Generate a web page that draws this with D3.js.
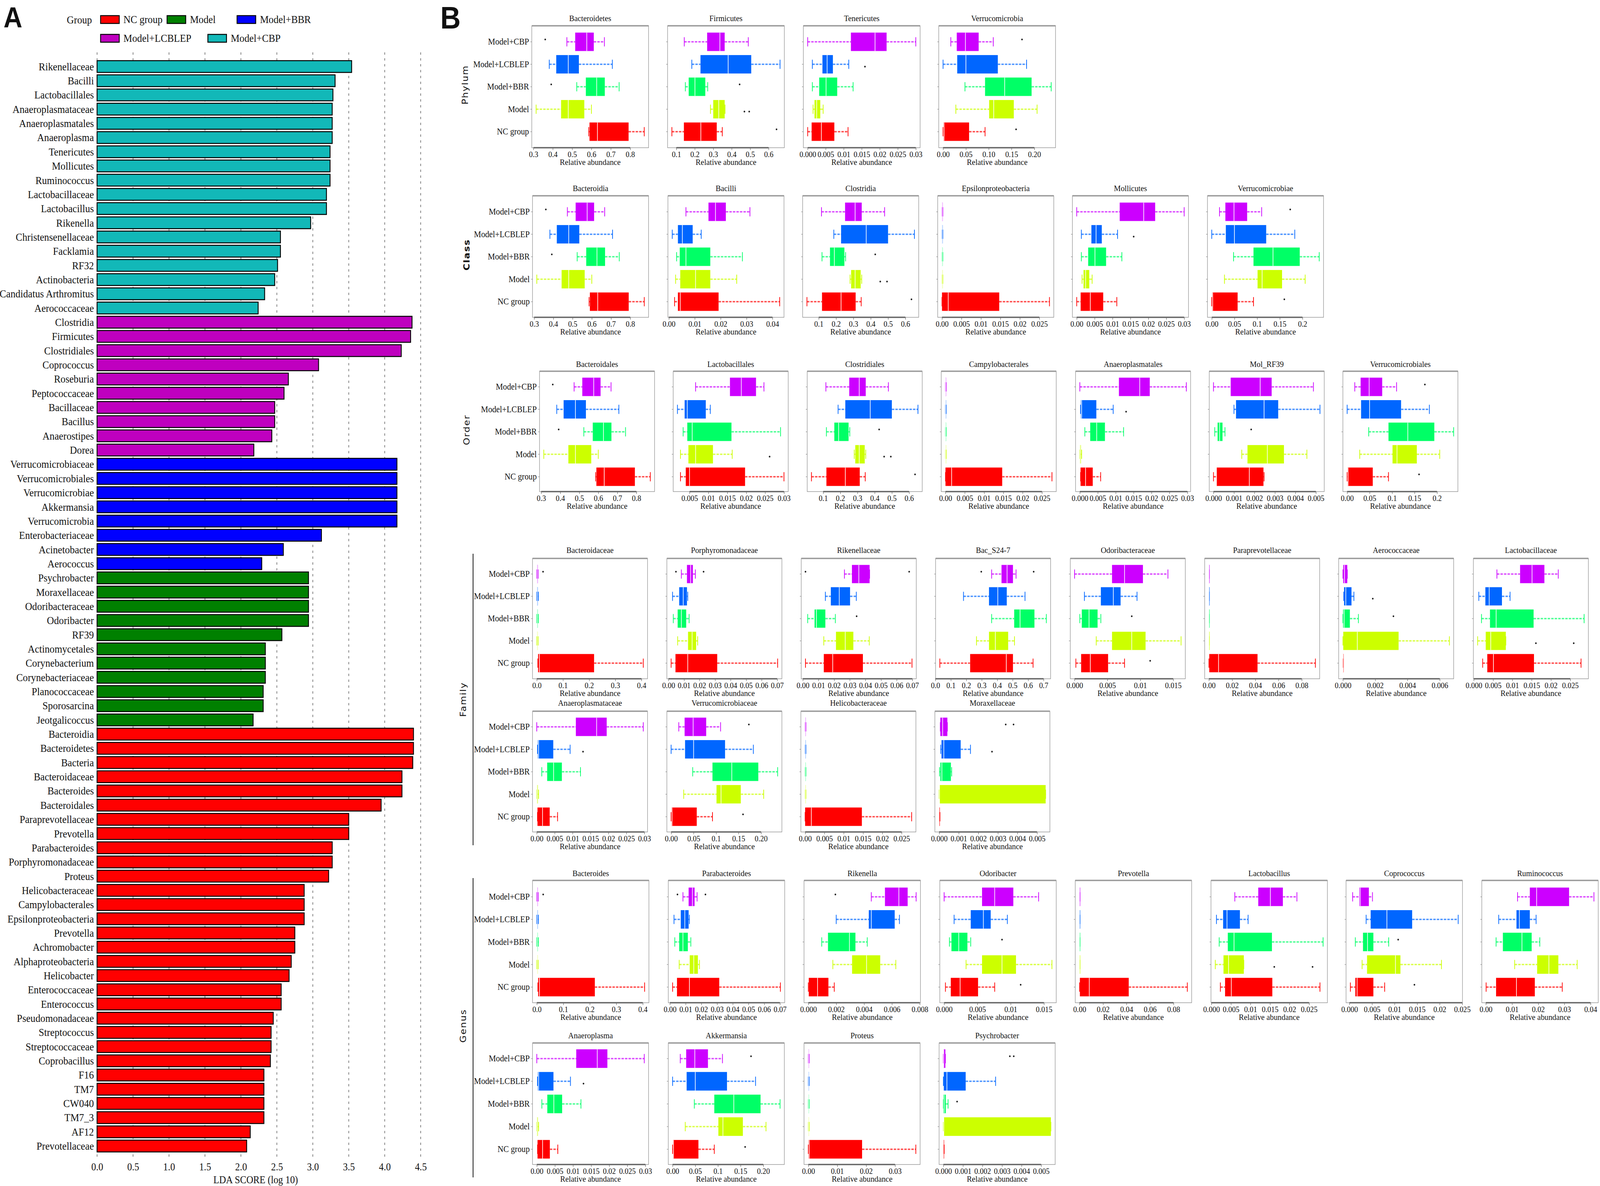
<!DOCTYPE html>
<html>
<head>
<meta charset="utf-8">
<script src="https://cdn.jsdelivr.net/npm/d3@7"></script>
<style>
  html, body { margin: 0; padding: 0; background: #fff; overflow: hidden; }
  svg { display: block; width: 100vw; height: 100vh; }
  text { font-family: "Liberation Serif", "Times New Roman", serif; fill: #111; }
</style>
</head>
<body>
<div id="chart"></div>
<script>
// ---------- Panel A data (LEfSe LDA scores) ----------
var groupNames = ["NC group", "Model", "Model+BBR", "Model+LCBLEP", "Model+CBP"];

var ldaTaxa = [
  "Rikenellaceae", "Bacilli", "Lactobacillales", "Anaeroplasmataceae", "Anaeroplasmatales", "Anaeroplasma",
  "Tenericutes", "Mollicutes", "Ruminococcus", "Lactobacillaceae", "Lactobacillus", "Rikenella",
  "Christensenellaceae", "Facklamia", "RF32", "Actinobacteria", "Candidatus Arthromitus", "Aerococcaceae",
  "Clostridia", "Firmicutes", "Clostridiales", "Coprococcus", "Roseburia", "Peptococcaceae",
  "Bacillaceae", "Bacillus", "Anaerostipes", "Dorea",
  "Verrucomicrobiaceae", "Verrucomicrobiales", "Verrucomicrobiae", "Akkermansia", "Verrucomicrobia",
  "Enterobacteriaceae", "Acinetobacter", "Aerococcus",
  "Psychrobacter", "Moraxellaceae", "Odoribacteraceae", "Odoribacter", "RF39", "Actinomycetales",
  "Corynebacterium", "Corynebacteriaceae", "Planococcaceae", "Sporosarcina", "Jeotgalicoccus",
  "Bacteroidia", "Bacteroidetes", "Bacteria", "Bacteroidaceae", "Bacteroides", "Bacteroidales",
  "Paraprevotellaceae", "Prevotella", "Parabacteroides", "Porphyromonadaceae", "Proteus",
  "Helicobacteraceae", "Campylobacterales", "Epsilonproteobacteria", "Prevotella", "Achromobacter",
  "Alphaproteobacteria", "Helicobacter", "Enterococcaceae", "Enterococcus", "Pseudomonadaceae",
  "Streptococcus", "Streptococcaceae", "Coprobacillus", "F16", "TM7", "CW040", "TM7_3", "AF12",
  "Prevotellaceae"
];

var ldaScores = [
  3.54, 3.31, 3.28, 3.27, 3.27, 3.27,
  3.24, 3.24, 3.24, 3.19, 3.19, 2.97,
  2.55, 2.55, 2.51, 2.47, 2.33, 2.24,
  4.38, 4.36, 4.23, 3.08, 2.66, 2.60,
  2.47, 2.47, 2.43, 2.18,
  4.17, 4.17, 4.17, 4.17, 4.17,
  3.12, 2.59, 2.29,
  2.94, 2.94, 2.94, 2.94, 2.57, 2.34,
  2.34, 2.34, 2.31, 2.31, 2.17,
  4.40, 4.40, 4.39, 4.24, 4.24, 3.95,
  3.50, 3.50, 3.27, 3.27, 3.22,
  2.88, 2.88, 2.88, 2.75, 2.75,
  2.70, 2.67, 2.56, 2.56, 2.45,
  2.42, 2.42, 2.41, 2.32, 2.32, 2.32, 2.32, 2.13,
  2.08
];

// group of each bar, same order as ldaTaxa
var ldaGroupCounts = [["Model+CBP", 18], ["Model+LCBLEP", 10], ["Model+BBR", 8], ["Model", 11], ["NC group", 30]];
var ldaTicks = [0, 0.5, 1, 1.5, 2, 2.5, 3, 3.5, 4, 4.5];

// ---------- Panel B data: [lower whisker, Q1, median, Q3, upper whisker] ----------
// group order: Model+CBP, Model+LCBLEP, Model+BBR, Model, NC group
var boxGroups = ["Model+CBP", "Model+LCBLEP", "Model+BBR", "Model", "NC group"];

var bacteroidetesStats = [[0.473,0.516,0.576,0.612,0.667],[0.382,0.418,0.480,0.535,0.708],[0.524,0.571,0.627,0.669,0.743],[0.314,0.443,0.480,0.563,0.600],[0.586,0.590,0.631,0.792,0.873]];
var bacteroidetesOut = [[0,0.361],[2,0.392]];
var firmicutesStats = [[0.143,0.267,0.336,0.362,0.490],[0.184,0.231,0.381,0.506,0.662],[0.149,0.167,0.201,0.257,0.270],[0.285,0.300,0.330,0.362,0.364],[0.076,0.141,0.233,0.319,0.349]];
var firmicutesOut = [[2,0.443],[3,0.469],[3,0.495],[4,0.643]];
var tenericutesStats = [[0.0000,0.0120,0.0187,0.0219,0.0300],[0.0013,0.0041,0.0054,0.0070,0.0114],[0.0013,0.0032,0.0051,0.0082,0.0126],[0.0015,0.0019,0.0025,0.0035,0.0043],[0.0000,0.0011,0.0038,0.0074,0.0112]];
var tenericutesOut = [[1,0.0159]];
var verrucoStats = [[0.017,0.030,0.049,0.078,0.110],[0.000,0.031,0.050,0.120,0.183],[0.048,0.092,0.135,0.194,0.237],[0.028,0.101,0.111,0.155,0.206],[0.000,0.001,0.002,0.057,0.092]];
var verrucoOut = [[0,0.173],[4,0.160]];
var bacilliStats = [[0.0066,0.0153,0.0180,0.0220,0.0313],[0.0013,0.0035,0.0052,0.0092,0.0125],[0.0030,0.0042,0.0066,0.0160,0.0284],[0.0026,0.0044,0.0103,0.0160,0.0262],[0.0022,0.0035,0.0044,0.0192,0.0428]];
var clostridiaStats = [[0.116,0.252,0.310,0.348,0.480],[0.187,0.229,0.374,0.500,0.652],[0.119,0.165,0.190,0.248,0.255],[0.281,0.287,0.310,0.342,0.348],[0.032,0.119,0.229,0.313,0.345]];
var clostridiaOut = [[2,0.426],[3,0.455],[3,0.494],[4,0.635]];
var epsilonStats = [[0,0,0.00005,0.0001,0.0002],[0,0,0.00005,0.0001,0.0002],[0,0,0.00005,0.0001,0.0002],[0,0,0.00005,0.0001,0.0002],[0,0,0.0016,0.0147,0.0276]];
var lactobacillalesStats = [[0.0066,0.0157,0.0187,0.0226,0.0247],[0.0018,0.0037,0.0044,0.0093,0.0105],[0.0033,0.0044,0.0057,0.0161,0.0291],[0.0026,0.0047,0.0066,0.0112,0.0163],[0.0026,0.0040,0.0050,0.0197,0.0300]];
var lactobacillalesOut = [[3,0.0262]];
var anaeroplasmaStats = [[0.0000,0.0109,0.0167,0.0195,0.0297],[0.0002,0.0003,0.0005,0.0046,0.0093],[0.0014,0.0029,0.0047,0.0070,0.0122],[0.0000,0.0000,0.0001,0.0003,0.0005],[0.0002,0.0002,0.0016,0.0036,0.0058]];
var anaeroplasmaOut = [[1,0.0129]];
var molRF39Stats = [[0.00000,0.00084,0.00228,0.00284,0.00488],[0.00100,0.00110,0.00247,0.00316,0.00520],[0.00006,0.00020,0.00030,0.00044,0.00056],[0.00138,0.00166,0.00263,0.00344,0.00456],[0.00000,0.00016,0.00175,0.00244,0.00247]];
var molRF39Out = [[2,0.00184]];
var bacteroidaceaeStats = [[0,0.001,0.002,0.004,0.005],[0,0.001,0.002,0.004,0.006],[0,0.001,0.002,0.004,0.006],[0,0.001,0.002,0.003,0.005],[0.004,0.005,0.010,0.219,0.407]];
var bacteroidaceaeOut = [[0,0.024]];
var porphyroStats = [[0.0083,0.0119,0.0143,0.0157,0.0173],[0.0026,0.0069,0.0095,0.0119,0.0124],[0.0031,0.0059,0.0083,0.0114,0.0133],[0.0059,0.0126,0.0152,0.0178,0.0188],[0.0017,0.0045,0.0124,0.0314,0.0703]];
var porphyroOut = [[0,0.0048],[0,0.0226]];
var rikenellaceaeStats = [[0.0266,0.0314,0.0358,0.0427,0.0427],[0.0144,0.0179,0.0233,0.0302,0.0342],[0.0031,0.0075,0.0087,0.0144,0.0208],[0.0134,0.0212,0.0271,0.0323,0.0425],[0.0017,0.0134,0.0191,0.0384,0.0698]];
var rikenellaceaeOut = [[0,0.0017],[0,0.0680],[2,0.0344]];
var bacS247Stats = [[0.364,0.428,0.464,0.502,0.522],[0.182,0.347,0.404,0.462,0.580],[0.364,0.510,0.548,0.641,0.718],[0.266,0.347,0.388,0.471,0.512],[0.029,0.225,0.459,0.502,0.632]];
var bacS247Out = [[0,0.297],[0,0.636]];
var odoriStats = [[0.0000,0.0057,0.0076,0.0104,0.0142],[0.0015,0.0040,0.0059,0.0070,0.0095],[0.0008,0.0011,0.0022,0.0035,0.0040],[0.0033,0.0057,0.0087,0.0108,0.0162],[0.0002,0.0010,0.0024,0.0051,0.0076]];
var odoriOut = [[2,0.0087],[4,0.0115]];
var paraprevStats = [[0,0,0,0.0002,0.0004],[0,0,0,0.0002,0.0004],[0,0,0,0.0002,0.0004],[0,0,0,0.0002,0.0004],[0,0.0003,0.0083,0.0419,0.0918]];
var aerococcStats = [[0,0.00002,0.0001,0.00027,0.00027],[0.00005,0.00007,0.00018,0.00053,0.00068],[0,0.00001,0.00007,0.00043,0.00096],[0,0.00002,0.00089,0.00345,0.0066],[0,0,0.00001,0.00002,0.00003]];
var aerococcOut = [[1,0.00185],[2,0.00313]];
var lactobacillaceaeStats = [[0.0060,0.0120,0.0151,0.0183,0.0219],[0.0013,0.0030,0.0040,0.0073,0.0094],[0.0020,0.0042,0.0058,0.0155,0.0286],[0.0010,0.0031,0.0044,0.0083,0.0083],[0.0023,0.0035,0.0051,0.0156,0.0278]];
var lactobacillaceaeOut = [[3,0.0161],[3,0.0259]];
var moraxStats = [[0.00006,0.00006,0.00018,0.00042,0.00042],[0.00008,0.00012,0.00024,0.00110,0.00160],[0.00002,0.00006,0.00014,0.00060,0.00064],[0,0.00002,0.00002,0.00544,0.00544],[0,0,0,0.00002,0.00004]];
var moraxOut = [[0,0.0038],[0,0.0034],[1,0.0027]];
var psychroStats = [[0,0,0.00002,0.0001,0.0001],[0,0.00002,0.00018,0.00114,0.00267],[0,0,0.00004,0.00012,0.00024],[0,0.00002,0.00002,0.0055,0.0055],[0,0,0,0.00002,0.00004]];
var psychroOut = [[0,0.0034],[0,0.0036],[2,0.0007]];
var rikenellaStats = [[0.00452,0.0055,0.0065,0.00713,0.00774],[0.0020,0.00434,0.00452,0.0062,0.00654],[0.00096,0.00141,0.00295,0.00338,0.00423],[0.00176,0.00314,0.00418,0.00516,0.00628],[0,0.00003,0.00066,0.00144,0.00186]];
var rikenellaOut = [[0,0.00194]];
var coprococcusStats = [[0.0007,0.0022,0.0024,0.0043,0.0051],[0.0037,0.0047,0.0083,0.0139,0.0241],[0.0013,0.0030,0.0040,0.0053,0.0087],[0.0028,0.0039,0.0102,0.0113,0.0204],[0.0002,0.0013,0.0017,0.0053,0.0078]];
var coprococcusOut = [[2,0.0108],[4,0.0144]];
var ruminococcusStats = [[0.0121,0.0168,0.0194,0.0318,0.0413],[0.0049,0.0117,0.0128,0.0168,0.0192],[0.0039,0.0065,0.0138,0.0175,0.0206],[0.0110,0.0196,0.0241,0.0277,0.0349],[0.0001,0.0039,0.0117,0.0187,0.0292]];
var proteusStats = [[0,0,0.0001,0.0002,0.0003],[0,0,0.0001,0.0002,0.0003],[0,0,0.0001,0.0002,0.0003],[0,0,0.0001,0.0002,0.0003],[0,0.0001,0.0003,0.0186,0.0372]];

// tick labels
var ticksBacteroid = ["0.3","0.4","0.5","0.6","0.7","0.8"];
var ticksFirm = ["0.1","0.2","0.3","0.4","0.5","0.6"];
var ticksTener = ["0.000","0.005","0.01","0.015","0.02","0.025","0.03"];
var ticksMolli = ["0.00","0.005","0.01","0.015","0.02","0.025","0.03"];
var ticksVerrucoP = ["0.00","0.05","0.10","0.15","0.20"];
var ticksVerrucoC = ["0.00","0.05","0.1","0.15","0.2"];
var ticksVerrucoF = ["0.00","0.05","0.1","0.15","0.20"];
var ticksBacilli = ["0.00","0.01","0.02","0.03","0.04"];
var ticksEpsilon = ["0.00","0.005","0.01","0.015","0.02","0.025"];
var ticksLactobacillales = ["0.005","0.01","0.015","0.02","0.025","0.03"];
var ticksMol = ["0.000","0.001","0.002","0.003","0.004","0.005"];
var ticksBacteroidaceae = ["0.0","0.1","0.2","0.3","0.4"];
var ticksSeven = ["0.00","0.01","0.02","0.03","0.04","0.05","0.06","0.07"];
var ticksS247 = ["0.0","0.1","0.2","0.3","0.4","0.5","0.6","0.7"];
var ticksOdori = ["0.000","0.005","0.01","0.015"];
var ticksParaprev = ["0.00","0.02","0.04","0.06","0.08"];
var ticksAero = ["0.000","0.002","0.004","0.006"];
var ticksLacto = ["0.000","0.005","0.01","0.015","0.02","0.025"];
var ticksRikenella = ["0.000","0.002","0.004","0.006","0.008"];
var ticksRumino = ["0.00","0.01","0.02","0.03","0.04"];
var ticksProteus = ["0.00","0.01","0.02","0.03"];

// ---------- SVG ----------
var svg = d3.select("#chart").append("svg")
  .attr("viewBox", "0 0 4549 3035")
  .attr("preserveAspectRatio", "none");
svg.append("rect").attr("width", 4549).attr("height", 3035).attr("fill", "#fff");

// ================= Panel A =================
var gA = svg.append("g");

gA.append("text").attr("x", 10).attr("y", 70)
  .style("font-family", "'Liberation Sans', Arial, sans-serif")
  .style("font-weight", "bold").style("font-size", "74px").text("A");

var ldaColor = d3.scaleOrdinal()
  .domain(groupNames)
  .range(["#FF0000", "#008000", "#0000FF", "#BF00BF", "#12B8B8"]);

var ldaGroups = [];
ldaGroupCounts.forEach(function (gc) { for (var k = 0; k < gc[1]; k++) ldaGroups.push(gc[0]); });

var ldaX = d3.scaleLinear().domain([0, 4.5]).range([276, 1196]);
var ldaY = d3.scaleBand()
  .domain(d3.range(ldaTaxa.length))
  .range([153, 2950])
  .paddingInner(0.17)
  .paddingOuter(0.06);

// legend
gA.append("text").attr("x", 190).attr("y", 51).attr("dominant-baseline", "central")
  .style("font-size", "28px").text("Group");
var legendPos = [[286, 40], [475, 40], [674, 40], [286, 88], [591, 88]];
groupNames.forEach(function (g, i) {
  gA.append("rect").attr("x", legendPos[i][0]).attr("y", legendPos[i][1])
    .attr("width", 53).attr("height", 20)
    .attr("fill", ldaColor(g)).attr("stroke", "#000").attr("stroke-width", 2.5);
  gA.append("text").attr("x", legendPos[i][0] + 65).attr("y", legendPos[i][1] + 10)
    .attr("dominant-baseline", "central").style("font-size", "28px").text(g);
});

// dashed grid
gA.selectAll(".grid").data(ldaTicks).enter().append("line")
  .attr("x1", d => ldaX(d)).attr("x2", d => ldaX(d))
  .attr("y1", 134).attr("y2", 2968)
  .attr("stroke", "#444").attr("stroke-width", 1.4)
  .attr("stroke-dasharray", "6,9");

// bars
gA.selectAll(".bar").data(ldaScores).enter().append("rect")
  .attr("x", ldaX(0))
  .attr("y", (d, i) => ldaY(i))
  .attr("width", d => ldaX(d) - ldaX(0))
  .attr("height", ldaY.bandwidth())
  .attr("fill", (d, i) => ldaColor(ldaGroups[i]))
  .attr("stroke", "#000").attr("stroke-width", 2.5);

// taxa labels
gA.selectAll(".lab").data(ldaTaxa).enter().append("text")
  .attr("x", 267)
  .attr("y", (d, i) => ldaY(i) + ldaY.bandwidth() / 2)
  .attr("text-anchor", "end").attr("dominant-baseline", "central")
  .style("font-size", "28px").text(d => d);

// x axis
var axA = gA.append("g").attr("transform", "translate(0,2960)")
  .call(d3.axisBottom(ldaX).tickValues(ldaTicks).tickFormat(d3.format(".1f")).tickSize(0).tickPadding(16));
axA.select(".domain").remove();
axA.selectAll("text").style("font-size", "27px").style("font-family", "'Liberation Serif', serif").attr("fill", "#111");
gA.append("text").attr("x", 727).attr("y", 3019).attr("text-anchor", "middle")
  .attr("dominant-baseline", "central").style("font-size", "27px").text("LDA SCORE (log 10)");

// ================= Panel B =================
var gB = svg.append("g");
gB.append("text").attr("x", 1252).attr("y", 73)
  .style("font-family", "'Liberation Sans', Arial, sans-serif")
  .style("font-weight", "bold").style("font-size", "80px").text("B");

var boxColor = d3.scaleOrdinal().domain(boxGroups)
  .range(["#CC00FF", "#0066FF", "#00FF66", "#CCFF00", "#FF0000"]);

var rows = [
  { name: "Phylum", top: 66, bottom: 378, y1: 107, y2: 337, title: 47, w: 332, xs: [1512, 1898, 2284, 2669],
    panels: [
      { title: "Bacteroidetes", stats: bacteroidetesStats, out: bacteroidetesOut, ticks: ticksBacteroid },
      { title: "Firmicutes", stats: firmicutesStats, out: firmicutesOut, ticks: ticksFirm },
      { title: "Tenericutes", stats: tenericutesStats, out: tenericutesOut, ticks: ticksTener },
      { title: "Verrucomicrobia", stats: verrucoStats, out: verrucoOut, ticks: ticksVerrucoP }] },
  { name: "Class", top: 501, bottom: 812, y1: 542, y2: 772, title: 482, w: 330, xs: [1514, 1899, 2282, 2666, 3049, 3433],
    panels: [
      { title: "Bacteroidia", stats: bacteroidetesStats, out: bacteroidetesOut, ticks: ticksBacteroid },
      { title: "Bacilli", stats: bacilliStats, out: [], ticks: ticksBacilli },
      { title: "Clostridia", stats: clostridiaStats, out: clostridiaOut, ticks: ticksFirm },
      { title: "Epsilonproteobacteria", stats: epsilonStats, out: [], ticks: ticksEpsilon },
      { title: "Mollicutes", stats: tenericutesStats, out: tenericutesOut, ticks: ticksMolli },
      { title: "Verrucomicrobiae", stats: verrucoStats, out: verrucoOut, ticks: ticksVerrucoC }] },
  { name: "Order", top: 950, bottom: 1258, y1: 990, y2: 1220, title: 932, w: 327, xs: [1534, 1914, 2295, 2676, 3058, 3438, 3818],
    panels: [
      { title: "Bacteroidales", stats: bacteroidetesStats, out: bacteroidetesOut, ticks: ticksBacteroid },
      { title: "Lactobacillales", stats: lactobacillalesStats, out: lactobacillalesOut, ticks: ticksLactobacillales },
      { title: "Clostridiales", stats: clostridiaStats, out: clostridiaOut, ticks: ticksFirm },
      { title: "Campylobacterales", stats: epsilonStats, out: [], ticks: ticksEpsilon },
      { title: "Anaeroplasmatales", stats: anaeroplasmaStats, out: anaeroplasmaOut, ticks: ticksTener },
      { title: "Mol_RF39", stats: molRF39Stats, out: molRF39Out, ticks: ticksMol },
      { title: "Verrucomicrobiales", stats: verrucoStats, out: verrucoOut, ticks: ticksVerrucoC }] },
  { name: "", top: 1429, bottom: 1737, y1: 1469, y2: 1697, title: 1408, w: 327, xs: [1514, 1896, 2278, 2660, 3043, 3425, 3806, 4189],
    panels: [
      { title: "Bacteroidaceae", stats: bacteroidaceaeStats, out: bacteroidaceaeOut, ticks: ticksBacteroidaceae },
      { title: "Porphyromonadaceae", stats: porphyroStats, out: porphyroOut, ticks: ticksSeven },
      { title: "Rikenellaceae", stats: rikenellaceaeStats, out: rikenellaceaeOut, ticks: ticksSeven },
      { title: "Bac_S24-7", stats: bacS247Stats, out: bacS247Out, ticks: ticksS247 },
      { title: "Odoribacteraceae", stats: odoriStats, out: odoriOut, ticks: ticksOdori },
      { title: "Paraprevotellaceae", stats: paraprevStats, out: [], ticks: ticksParaprev },
      { title: "Aerococcaceae", stats: aerococcStats, out: aerococcOut, ticks: ticksAero },
      { title: "Lactobacillaceae", stats: lactobacillaceaeStats, out: lactobacillaceaeOut, ticks: ticksLacto }] },
  { name: "", top: 1820, bottom: 2129, y1: 1860, y2: 2090, title: 1799, w: 327, xs: [1514, 1896, 2277, 2658],
    panels: [
      { title: "Anaeroplasmataceae", stats: anaeroplasmaStats, out: anaeroplasmaOut, ticks: ticksMolli },
      { title: "Verrucomicrobiaceae", stats: verrucoStats, out: verrucoOut, ticks: ticksVerrucoF },
      { title: "Helicobacteraceae", stats: epsilonStats, out: [], ticks: ticksEpsilon, xlab: "Relatice abundance" },
      { title: "Moraxellaceae", stats: moraxStats, out: moraxOut, ticks: ticksMol }] },
  { name: "", top: 2253, bottom: 2566, y1: 2295, y2: 2526, title: 2235, w: 331, xs: [1514, 1900, 2286, 2672, 3057, 3443, 3827, 4213],
    panels: [
      { title: "Bacteroides", stats: bacteroidaceaeStats, out: bacteroidaceaeOut, ticks: ticksBacteroidaceae },
      { title: "Parabacteroides", stats: porphyroStats, out: porphyroOut, ticks: ticksSeven },
      { title: "Rikenella", stats: rikenellaStats, out: rikenellaOut, ticks: ticksRikenella },
      { title: "Odoribacter", stats: odoriStats, out: odoriOut, ticks: ticksOdori },
      { title: "Prevotella", stats: paraprevStats, out: [], ticks: ticksParaprev },
      { title: "Lactobacillus", stats: lactobacillaceaeStats, out: lactobacillaceaeOut, ticks: ticksLacto },
      { title: "Coprococcus", stats: coprococcusStats, out: coprococcusOut, ticks: ticksLacto },
      { title: "Ruminococcus", stats: ruminococcusStats, out: [], ticks: ticksRumino }] },
  { name: "", top: 2669, bottom: 2980, y1: 2709, y2: 2941, title: 2650, w: 330, xs: [1514, 1900, 2286, 2670],
    panels: [
      { title: "Anaeroplasma", stats: anaeroplasmaStats, out: anaeroplasmaOut, ticks: ticksMolli },
      { title: "Akkermansia", stats: verrucoStats, out: verrucoOut, ticks: ticksVerrucoF },
      { title: "Proteus", stats: proteusStats, out: [], ticks: ticksProteus },
      { title: "Psychrobacter", stats: psychroStats, out: psychroOut, ticks: ticksMol }] }
];

function drawPanel(row, p, x0, showLabels) {
  var g = gB.append("g");
  var all = d3.merge(p.stats).concat(p.out.map(o => o[1]));
  var lo = d3.min(all), hi = d3.max(all), pad = (hi - lo) * 0.04;
  var x = d3.scaleLinear().domain([lo - pad, hi + pad]).range([x0, x0 + row.w]);
  var y = d3.scalePoint().domain(boxGroups).range([row.y1, row.y2]);
  var bh = (row.y2 - row.y1) / 4 * 0.82;

  // frame
  g.append("rect").attr("x", x0).attr("y", row.top)
    .attr("width", row.w).attr("height", row.bottom - row.top)
    .attr("fill", "none").attr("stroke", "#8a8a8a").attr("stroke-width", 1.3);
  g.append("line").attr("x1", x0).attr("x2", x0 + row.w).attr("y1", row.top).attr("y2", row.top)
    .attr("stroke", "#9a9a9a").attr("stroke-width", 3.5);

  // title
  g.append("text").attr("x", x0 + row.w / 2).attr("y", row.title)
    .attr("text-anchor", "middle").attr("dominant-baseline", "central")
    .style("font-size", "22px").text(p.title);

  // y ticks and labels
  boxGroups.forEach(function (grp) {
    g.append("line").attr("x1", x0 - 4).attr("x2", x0).attr("y1", y(grp)).attr("y2", y(grp))
      .attr("stroke", "#888").attr("stroke-width", 1.2);
    if (showLabels) {
      g.append("text").attr("x", x0 - 8).attr("y", y(grp))
        .attr("text-anchor", "end").attr("dominant-baseline", "central")
        .style("font-size", "23px").text(grp);
    }
  });

  // boxes
  p.stats.forEach(function (s, i) {
    var grp = boxGroups[i], cy = y(grp), col = boxColor(grp);
    [[s[0], s[1]], [s[3], s[4]]].forEach(function (seg) {
      g.append("line").attr("x1", x(seg[0])).attr("x2", x(seg[1])).attr("y1", cy).attr("y2", cy)
        .attr("stroke", col).attr("stroke-opacity", 0.7).attr("stroke-width", 3.5)
        .attr("stroke-dasharray", "7,3");
    });
    [s[0], s[4]].forEach(function (v) {
      g.append("line").attr("x1", x(v)).attr("x2", x(v)).attr("y1", cy - bh * 0.25).attr("y2", cy + bh * 0.25)
        .attr("stroke", col).attr("stroke-width", 2);
    });
    g.append("rect").attr("x", x(s[1])).attr("y", cy - bh / 2)
      .attr("width", Math.max(x(s[3]) - x(s[1]), 2)).attr("height", bh)
      .attr("fill", col);
    g.append("line").attr("x1", x(s[2])).attr("x2", x(s[2])).attr("y1", cy - bh / 2).attr("y2", cy + bh / 2)
      .attr("stroke", "#fff").attr("stroke-width", 1.8);
  });

  // outliers
  g.selectAll(".pt").data(p.out).enter().append("circle")
    .attr("cx", d => x(d[1])).attr("cy", d => y(boxGroups[d[0]]) + (d[0] % 2 ? 6 : -6))
    .attr("r", 2.3).attr("fill", "#222");

  // x axis
  var vals = p.ticks.map(Number);
  var ax = g.append("g").attr("transform", "translate(0," + row.bottom + ")")
    .call(d3.axisBottom(x).tickValues(vals).tickFormat((d, i) => p.ticks[i]).tickSize(6).tickPadding(3));
  ax.select(".domain").remove();
  ax.selectAll(".tick line").attr("stroke", "#666").attr("stroke-width", 1.3);
  ax.selectAll("text").style("font-size", "21px").style("font-family", "'Liberation Serif', serif").attr("fill", "#111");
  g.append("line").attr("x1", x(vals[0])).attr("x2", x(vals[vals.length - 1]))
    .attr("y1", row.bottom).attr("y2", row.bottom)
    .attr("stroke", "#666").attr("stroke-width", 3.5);
  g.append("text").attr("x", x0 + row.w / 2).attr("y", row.bottom + 37)
    .attr("text-anchor", "middle").attr("dominant-baseline", "central")
    .style("font-size", "22px").text(p.xlab || "Relative abundance");
}

rows.forEach(function (row) {
  row.panels.forEach(function (p, j) { drawPanel(row, p, row.xs[j], j === 0); });
});

// rank labels
var rankLabels = [["Phylum", 1322, 217], ["Class", 1326, 652], ["Order", 1326, 1100], ["Family", 1316, 1790], ["Genus", 1316, 2625]];
rankLabels.forEach(function (r) {
  gB.append("text").attr("transform", "translate(" + r[1] + "," + r[2] + ") rotate(-90)")
    .attr("text-anchor", "middle").attr("dominant-baseline", "central")
    .style("font-family", "'DejaVu Sans', sans-serif").style("font-size", "24px")
    .style("letter-spacing", "2px").style("font-weight", r[0] === "Class" ? "bold" : "normal")
    .text(r[0]);
});
// brackets for Family and Genus
[[1417, 2163], [2247, 3013]].forEach(function (b) {
  gB.append("line").attr("x1", 1345).attr("x2", 1345).attr("y1", b[0]).attr("y2", b[1])
    .attr("stroke", "#000").attr("stroke-width", 2);
});
</script>
</body>
</html>
